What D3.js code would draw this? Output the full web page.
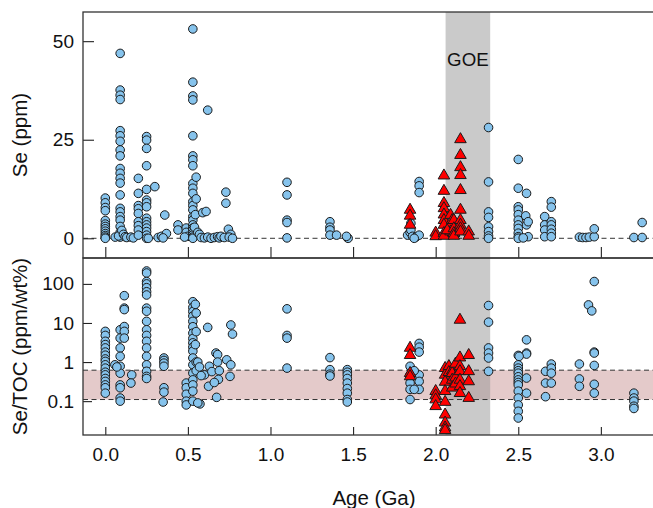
<!DOCTYPE html>
<html>
<head>
<meta charset="utf-8">
<script src="https://cdn.jsdelivr.net/npm/d3@7"></script>
<style>
  body { margin: 0; background: #fff; }
  text { font-family: "Liberation Sans", Arial, sans-serif; fill: #111; }
</style>
</head>
<body>
<div id="chart"></div>
<script>
// ---- data: [age (Ga), value] ----
const seCircles = [
  [0.0, 10.2], [0.0, 9.0], [0.0, 7.8], [0.0, 7.0], [0.0, 4.5], [0.0, 3.6], [0.0, 3.0], [0.0, 2.4],
  [0.0, 1.8], [0.0, 1.2], [0.0, 0.7], [0.0, 0.3], [0.0, 0.0],
  [0.09, 46.9], [0.09, 37.6], [0.09, 36.3], [0.09, 35.2], [0.09, 27.3], [0.09, 26.0], [0.09, 24.6],
  [0.09, 22.4], [0.09, 20.9], [0.09, 17.7], [0.09, 16.5], [0.09, 15.2], [0.09, 14.0], [0.09, 11.0],
  [0.09, 7.6], [0.09, 6.7], [0.09, 5.5], [0.09, 4.6], [0.09, 3.0], [0.09, 1.5], [0.09, 0.3],
  [0.06, 0.3], [0.08, 0.6], [0.10, 2.0], [0.11, 1.0], [0.12, 0.4], [0.13, 0.2], [0.155, 0.3], [0.17, 0.1],
  [0.20, 15.2], [0.20, 11.4], [0.20, 8.3], [0.20, 7.5], [0.20, 6.3], [0.20, 4.2], [0.20, 3.2], [0.20, 2.1], [0.20, 0.8],
  [0.25, 25.8], [0.25, 24.9], [0.25, 22.8], [0.25, 18.4], [0.25, 12.4], [0.25, 9.7], [0.25, 9.0], [0.25, 8.0],
  [0.25, 5.1], [0.25, 4.2], [0.25, 3.4], [0.25, 2.6], [0.25, 1.7], [0.25, 0.8], [0.25, 0.0],
  [0.30, 13.1], [0.26, 0.0], [0.32, 0.2], [0.34, 0.5], [0.36, 5.9], [0.37, 1.2], [0.35, 0.1],
  [0.44, 3.4], [0.44, 2.1], [0.49, 2.6], [0.49, 1.5], [0.50, 0.5], [0.48, 0.3],
  [0.53, 53.1], [0.53, 39.6], [0.53, 36.1], [0.53, 35.1], [0.53, 26.0], [0.53, 20.9], [0.53, 19.9],
  [0.53, 18.4], [0.53, 13.9], [0.53, 12.7], [0.53, 11.4], [0.53, 9.3], [0.53, 8.3], [0.53, 7.2],
  [0.53, 5.5], [0.53, 4.6], [0.53, 3.4], [0.53, 2.6], [0.53, 2.1], [0.53, 1.3], [0.53, 0.8], [0.53, 0.3], [0.53, 0.0],
  [0.55, 15.5], [0.55, 10.0], [0.545, 6.0], [0.54, 2.8], [0.56, 1.5], [0.59, 6.5], [0.61, 6.8], [0.57, 1.0],
  [0.62, 32.5], [0.73, 11.7], [0.73, 8.9],
  [0.58, 0.2], [0.60, 0.1], [0.62, 0.3], [0.64, 0.0], [0.66, 0.2], [0.68, 0.4], [0.69, 0.1], [0.70, 0.5],
  [0.72, 0.2], [0.745, 2.3], [0.76, 1.0], [0.75, 0.3], [0.77, 0.0],
  [1.10, 14.2], [1.10, 11.0], [1.10, 4.6], [1.10, 4.0], [1.10, 0.1],
  [1.36, 4.2], [1.36, 2.8], [1.36, 2.1], [1.36, 0.8], [1.40, 0.8], [1.465, 0.2], [1.47, 0.0], [1.46, 0.5],
  [1.90, 14.4], [1.90, 13.3], [1.90, 11.6],
  [1.83, 0.8], [1.845, 1.5], [1.85, 2.1], [1.85, 3.8], [1.86, 0.5], [1.88, 0.3], [1.90, 0.8], [1.87, 0.0],
  [2.08, 5.5], [2.10, 3.0], [2.12, 1.0],
  [2.32, 28.1], [2.32, 14.3], [2.32, 6.7], [2.32, 5.3], [2.32, 2.9], [2.32, 1.7], [2.32, 0.6], [2.32, 0.0],
  [2.50, 20.0], [2.50, 12.7], [2.50, 8.0], [2.50, 7.2], [2.50, 6.0], [2.50, 4.6], [2.50, 3.4], [2.50, 2.5],
  [2.50, 1.3], [2.50, 0.4], [2.50, 0.0],
  [2.55, 11.4], [2.545, 5.7], [2.55, 3.4], [2.56, 4.2], [2.56, 0.4], [2.53, 0.1],
  [2.66, 5.5], [2.66, 3.4], [2.66, 2.1], [2.66, 0.4],
  [2.70, 9.3], [2.70, 7.9], [2.70, 4.2], [2.70, 3.4], [2.70, 2.3], [2.70, 1.3], [2.70, 0.4],
  [2.87, 0.3], [2.89, 0.2], [2.91, 0.2], [2.93, 0.3], [2.96, 0.4], [2.96, 2.4],
  [3.20, 0.2], [3.25, 0.2], [3.25, 4.0]
];

const seTriangles = [
  [1.845, 7.2], [1.845, 5.7], [1.845, 3.4],
  [2.0, 1.4], [2.0, 0.5],
  [2.05, 15.9], [2.05, 12.0], [2.05, 8.9], [2.05, 7.6], [2.05, 6.0], [2.05, 4.6], [2.05, 3.4], [2.05, 1.3], [2.05, 0.6],
  [2.09, 5.9], [2.09, 3.4], [2.09, 1.7], [2.07, 2.0], [2.10, 4.6],
  [2.11, 4.6], [2.11, 2.5], [2.11, 1.3], [2.11, 0.6],
  [2.15, 25.1], [2.15, 21.1], [2.15, 18.0], [2.15, 16.0], [2.15, 12.2], [2.15, 7.2], [2.15, 4.6],
  [2.15, 3.4], [2.15, 2.5], [2.15, 1.7],
  [2.20, 1.7], [2.20, 0.6]
];

const ratioCircles = [
  [0.0, 6.1], [0.0, 4.8], [0.0, 3.4], [0.0, 2.8], [0.0, 2.3], [0.0, 1.8], [0.0, 1.5], [0.0, 1.2], [0.0, 1.04],
  [0.0, 0.85], [0.0, 0.70], [0.0, 0.55], [0.0, 0.47], [0.0, 0.38], [0.0, 0.32], [0.0, 0.26], [0.0, 0.22], [0.0, 0.16],
  [0.09, 6.7], [0.09, 4.1], [0.09, 2.3], [0.09, 1.4], [0.09, 0.78], [0.09, 0.52], [0.09, 0.26], [0.09, 0.22],
  [0.09, 0.12], [0.09, 0.1],
  [0.058, 0.85], [0.07, 0.75], [0.16, 0.47], [0.155, 0.29],
  [0.115, 50], [0.115, 24], [0.115, 22], [0.115, 8.1], [0.115, 6.1], [0.115, 4.1],
  [0.25, 214], [0.25, 190], [0.25, 115], [0.25, 100], [0.25, 80], [0.25, 63], [0.25, 52], [0.25, 24], [0.25, 20],
  [0.25, 11], [0.25, 6.7], [0.25, 4.8], [0.25, 3.4], [0.25, 2.3], [0.25, 1.4], [0.25, 0.85], [0.25, 0.58],
  [0.25, 0.43], [0.25, 0.38],
  [0.355, 1.27], [0.355, 1.1], [0.355, 0.94], [0.355, 0.78], [0.355, 0.22], [0.355, 0.17], [0.35, 0.095],
  [0.49, 0.29], [0.49, 0.22], [0.49, 0.15], [0.49, 0.1], [0.49, 0.08],
  [0.53, 35], [0.53, 25], [0.53, 19.6], [0.53, 15], [0.53, 11], [0.53, 8], [0.53, 5.5], [0.53, 4], [0.53, 3.1],
  [0.53, 2.4], [0.53, 1.9], [0.53, 1.27], [0.53, 0.85], [0.53, 0.52], [0.53, 0.35], [0.53, 0.26], [0.53, 0.18], [0.53, 0.1],
  [0.545, 30], [0.55, 18], [0.55, 6], [0.545, 2.8], [0.55, 1.0], [0.55, 0.6], [0.573, 0.085], [0.56, 0.09],
  [0.62, 7.7],
  [0.56, 1.0], [0.60, 0.47], [0.63, 0.78], [0.645, 0.57], [0.625, 0.24], [0.67, 1.7], [0.68, 1.55], [0.68, 1.0],
  [0.69, 0.6], [0.685, 0.36], [0.66, 0.30], [0.674, 0.125], [0.735, 1.14], [0.76, 0.85], [0.755, 0.43],
  [0.76, 8.9], [0.77, 5.2], [0.57, 0.75], [0.58, 0.45],
  [1.10, 23], [1.10, 4.8], [1.10, 4.1], [1.10, 0.70],
  [1.36, 1.3], [1.36, 0.64], [1.36, 0.49], [1.36, 0.44],
  [1.465, 0.64], [1.465, 0.55], [1.465, 0.47], [1.465, 0.38], [1.465, 0.29], [1.465, 0.21], [1.465, 0.16],
  [1.465, 0.11], [1.465, 0.095],
  [1.90, 3.0], [1.90, 2.4], [1.90, 1.8], [1.90, 0.47], [1.90, 0.32], [1.90, 0.2],
  [1.845, 0.78], [1.845, 0.47], [1.845, 0.29], [1.845, 0.2], [1.845, 0.11], [1.87, 0.2], [1.87, 0.6],
  [2.32, 28], [2.32, 10.5], [2.32, 2.3], [2.32, 1.7], [2.32, 1.27], [2.32, 0.58],
  [2.50, 1.48], [2.50, 0.85], [2.50, 0.70], [2.50, 0.6], [2.50, 0.52], [2.50, 0.42], [2.50, 0.35], [2.50, 0.3],
  [2.50, 0.26], [2.50, 0.18], [2.50, 0.12], [2.50, 0.08], [2.50, 0.055], [2.50, 0.037],
  [2.55, 3.7], [2.55, 1.7], [2.55, 1.6], [2.55, 0.39], [2.55, 0.16], [2.505, 1.4],
  [2.665, 0.58], [2.665, 0.29], [2.665, 0.13],
  [2.70, 0.89], [2.70, 0.70], [2.70, 0.52], [2.70, 0.29],
  [2.87, 0.89], [2.87, 0.37], [2.87, 0.24],
  [2.925, 29], [2.945, 20.4],
  [2.96, 115], [2.96, 1.8], [2.96, 1.7], [2.96, 0.82], [2.96, 0.27], [2.96, 0.16],
  [3.20, 0.16], [3.20, 0.12], [3.20, 0.1], [3.20, 0.074], [3.20, 0.065]
];

const ratioTriangles = [
  [1.845, 2.3], [1.845, 1.5], [1.845, 0.52], [1.845, 0.43],
  [2.0, 0.18], [2.0, 0.14], [2.0, 0.11], [2.0, 0.074],
  [2.057, 0.70], [2.057, 0.47], [2.057, 0.31], [2.057, 0.18], [2.057, 0.095], [2.057, 0.045],
  [2.057, 0.028], [2.057, 0.021], [2.057, 0.018],
  [2.08, 0.78], [2.08, 0.55],
  [2.10, 0.6], [2.10, 0.52], [2.10, 0.35], [2.10, 0.22],
  [2.12, 0.9], [2.12, 0.4], [2.12, 0.28],
  [2.147, 12], [2.147, 1.3], [2.147, 0.78], [2.147, 0.58], [2.147, 0.35], [2.147, 0.24], [2.147, 0.16],
  [2.20, 1.5], [2.20, 0.58], [2.20, 0.32], [2.20, 0.12]
];

const xTicks = [0, 0.5, 1, 1.5, 2, 2.5, 3];
const seTicks = [0, 25, 50];
const ratioTicks = [0.1, 1, 10, 100];
const goeRange = [2.06, 2.33];
const ratioBand = [0.11, 0.62];

// ---- layout ----
const W = 653, H = 508;
const left = 83, right = 660;
const topY0 = 12, topY1 = 258, botY0 = 258, botY1 = 435;
const BLUE = '#86c3ec';

const svg = d3.select('#chart').append('svg').attr('width', W).attr('height', H);

const x = d3.scaleLinear().domain([-0.135, 3.358]).range([left, right]);
const ySe = d3.scaleLinear().domain([-5, 57.4]).range([topY1, topY0]);
const yRatio = d3.scaleLog().domain([0.0136, 460]).range([botY1, botY0]);

// pink Se/TOC reference band
svg.append('rect')
  .attr('x', left).attr('width', right - left)
  .attr('y', yRatio(ratioBand[1]))
  .attr('height', yRatio(ratioBand[0]) - yRatio(ratioBand[1]))
  .attr('fill', '#e4caca');

// GOE band through both panels
svg.append('rect')
  .attr('x', x(goeRange[0])).attr('width', x(goeRange[1]) - x(goeRange[0]))
  .attr('y', topY0).attr('height', botY1 - topY0)
  .attr('fill', 'rgb(150,150,150)').attr('fill-opacity', 0.5);

// dashed lines
const dashed = (yv) => svg.append('line')
  .attr('x1', left).attr('x2', right).attr('y1', yv).attr('y2', yv)
  .attr('stroke', '#333').attr('stroke-width', 1).attr('stroke-dasharray', '5,3.5');
dashed(ySe(0));
dashed(yRatio(ratioBand[0]));
dashed(yRatio(ratioBand[1]));

// axes (inward ticks)
const styleAxis = (g) => {
  g.select('.domain').remove();
  g.selectAll('line').attr('stroke', '#222').attr('stroke-width', 1.1);
  g.selectAll('text').style('font-size', '19px').attr('fill', '#111')
    .style('font-family', '"Liberation Sans", Arial, sans-serif');
};

svg.append('g').attr('transform', `translate(${left},0)`)
  .call(d3.axisLeft(ySe).tickValues(seTicks).tickSize(-11).tickPadding(9).tickFormat(d3.format('d')))
  .call(styleAxis);

svg.append('g').attr('transform', `translate(0,${topY1})`)
  .call(d3.axisBottom(x).tickValues(xTicks).tickSize(-11).tickFormat(''))
  .call(styleAxis);

svg.append('g').attr('transform', `translate(${left},0)`)
  .call(d3.axisLeft(yRatio).tickValues(ratioTicks).tickSize(-9).tickPadding(9).tickFormat((d) => (d < 1 ? '0.1' : String(d))))
  .call(styleAxis);

svg.append('g').attr('transform', `translate(0,${botY1})`)
  .call(d3.axisBottom(x).tickValues(xTicks).tickSize(-8).tickPadding(13).tickFormat(d3.format('.1f')))
  .call(styleAxis);

// panel frames
const frame = (y0, y1) => svg.append('rect')
  .attr('x', left).attr('y', y0).attr('width', right - left).attr('height', y1 - y0)
  .attr('fill', 'none').attr('stroke', '#333').attr('stroke-width', 1.3);
frame(topY0, topY1);
frame(botY0, botY1);

// points
const tri = d3.symbol().type(d3.symbolTriangle).size(58);

const drawCircles = (data, y) => svg.append('g')
  .selectAll('circle').data(data).join('circle')
  .attr('cx', (d) => x(d[0])).attr('cy', (d) => y(d[1]))
  .attr('r', 4.3)
  .attr('fill', BLUE).attr('stroke', '#1a1a1a').attr('stroke-width', 1);

const drawTriangles = (data, y) => svg.append('g')
  .selectAll('path').data(data).join('path')
  .attr('d', tri)
  .attr('transform', (d) => `translate(${x(d[0])},${y(d[1])})`)
  .attr('fill', '#ff0000').attr('stroke', '#1a1a1a').attr('stroke-width', 1);

drawCircles(seCircles, ySe);
drawTriangles(seTriangles, ySe);
drawCircles(ratioCircles, yRatio);
drawTriangles(ratioTriangles, yRatio);

// labels
svg.append('text')
  .attr('x', (x(goeRange[0]) + x(goeRange[1])) / 2).attr('y', 66)
  .attr('text-anchor', 'middle').style('font-size', '18.7px')
  .text('GOE');

svg.append('text')
  .attr('transform', `translate(27,${(topY0 + topY1) / 2}) rotate(-90)`)
  .attr('text-anchor', 'middle').style('font-size', '20.5px')
  .text('Se (ppm)');

svg.append('text')
  .attr('transform', `translate(27,${(botY0 + botY1) / 2}) rotate(-90)`)
  .attr('text-anchor', 'middle').style('font-size', '20.5px')
  .text('Se/TOC (ppm/wt%)');

svg.append('text')
  .attr('x', 374).attr('y', 505)
  .attr('text-anchor', 'middle').style('font-size', '20.5px')
  .text('Age (Ga)');
</script>
</body>
</html>
